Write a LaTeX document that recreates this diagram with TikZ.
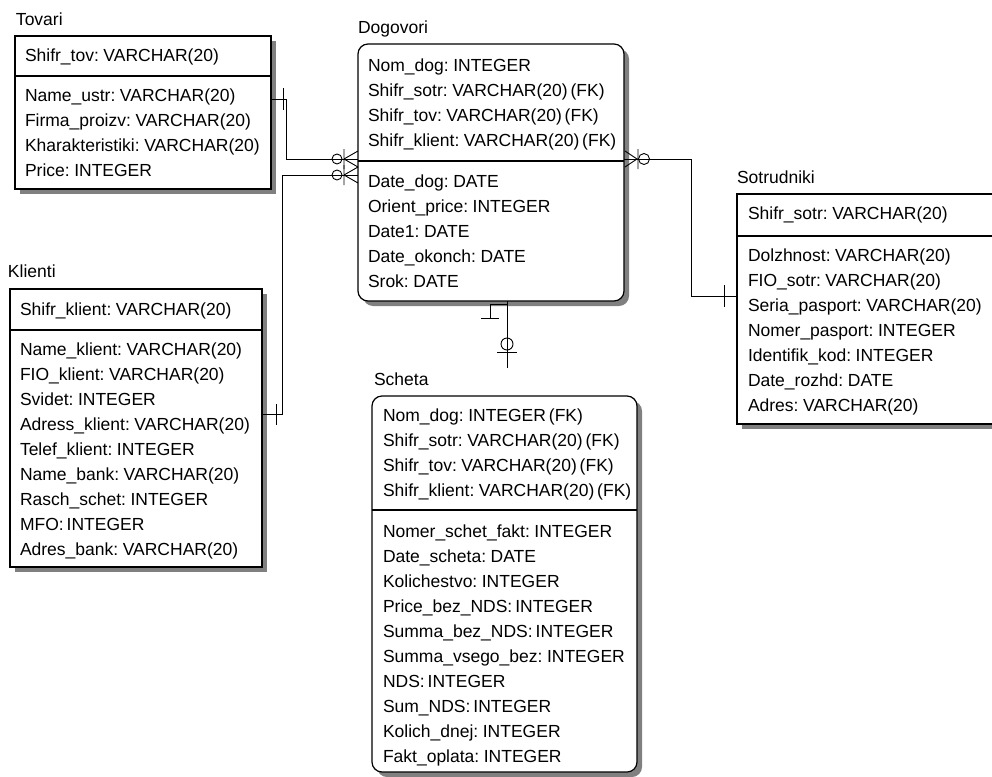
\documentclass[tikz,border=0pt]{standalone}
\usepackage{fontspec}
\setmainfont{Liberation Sans}[WordSpace=0.6]
\usetikzlibrary{shadows}

\begin{document}
\begin{tikzpicture}[x=1pt,y=-1pt,
  every node/.style={inner sep=0pt, outer sep=0pt, anchor=north west, align=left, font=\fontsize{17.5}{25}\selectfont},
  ent/.style={draw, line width=1.2pt, fill=white, drop shadow={shadow xshift=5pt, shadow yshift=-5pt, fill=black!50, opacity=1}},
  entr/.style={ent, rounded corners=10pt},
  rel/.style={line width=0.9pt}]
\useasboundingbox (0,0) rectangle (992,776);

% boxes
\node[ent, minimum width=256pt, minimum height=153pt] (tov) at (15,36) {};
\node[ent, minimum width=252pt, minimum height=278pt] (kli) at (10,289) {};
\node[entr, minimum width=266pt, minimum height=257pt] (dog) at (358,44) {};
\node[ent, minimum width=270pt, minimum height=230pt] (sot) at (737,194) {};
\node[entr, minimum width=265pt, minimum height=376pt] (sch) at (372,396) {};

\draw[line width=1.2pt] (tov.west |- 0,76) -- (tov.east |- 0,76);
\draw[line width=1.2pt] (kli.west |- 0,330) -- (kli.east |- 0,330);
\draw[line width=1.2pt] (dog.west |- 0,161) -- (dog.east |- 0,161);
\draw[line width=1.2pt] (sot.west |- 0,236) -- (sot.east |- 0,236);
\draw[line width=1.2pt] (sch.west |- 0,510) -- (sch.east |- 0,510);

% Tovari
\node (tovT) at (16,13) {Tovari};
\node (tovK) at (25,49) {Shifr\_tov: VARCHAR(20)};
\node (tovA) at (25,89) {Name\_ustr: VARCHAR(20)\\Firma\_proizv: VARCHAR(20)\\Kharakteristiki: VARCHAR(20)\\Price: INTEGER};

% Klienti
\node (kliT) at (8,265) {Klienti};
\node (kliK) at (20,303) {Shifr\_klient: VARCHAR(20)};
\node (kliA) at (20,343) {Name\_klient: VARCHAR(20)\\FIO\_klient: VARCHAR(20)\\Svidet: INTEGER\\Adress\_klient: VARCHAR(20)\\Telef\_klient: INTEGER\\Name\_bank: VARCHAR(20)\\Rasch\_schet: INTEGER\\MFO: INTEGER\\Adres\_bank: VARCHAR(20)};

% Dogovori
\node (dogT) at (358,21) {Dogovori};
\node (dogK) at (368,59) {Nom\_dog: INTEGER\\Shifr\_sotr: VARCHAR(20) (FK)\\Shifr\_tov: VARCHAR(20) (FK)\\Shifr\_klient: VARCHAR(20) (FK)};
\node (dogA) at (368,175) {Date\_dog: DATE\\Orient\_price: INTEGER\\Date1: DATE\\Date\_okonch: DATE\\Srok: DATE};

% Sotrudniki
\node (sotT) at (737,171) {Sotrudniki};
\node (sotK) at (748,207) {Shifr\_sotr: VARCHAR(20)};
\node (sotA) at (748,249) {Dolzhnost: VARCHAR(20)\\FIO\_sotr: VARCHAR(20)\\Seria\_pasport: VARCHAR(20)\\Nomer\_pasport: INTEGER\\Identifik\_kod: INTEGER\\Date\_rozhd: DATE\\Adres: VARCHAR(20)};

% Scheta
\node (schT) at (374,373) {Scheta};
\node (schK) at (383,409) {Nom\_dog: INTEGER (FK)\\Shifr\_sotr: VARCHAR(20) (FK)\\Shifr\_tov: VARCHAR(20) (FK)\\Shifr\_klient: VARCHAR(20) (FK)};
\node (schA) at (383,525) {Nomer\_schet\_fakt: INTEGER\\Date\_scheta: DATE\\Kolichestvo: INTEGER\\Price\_bez\_NDS: INTEGER\\Summa\_bez\_NDS: INTEGER\\Summa\_vsego\_bez: INTEGER\\NDS: INTEGER\\Sum\_NDS: INTEGER\\Kolich\_dnej: INTEGER\\Fakt\_oplata: INTEGER};

% Tovari - Dogovori
\draw[rel] (tov.east |- 0,99) -| (286,159) -- (dog.west |- 0,159);
\draw[rel] (283,88) -- (283,110);
\draw[rel] (344,159) -- (358,151) (344,159) -- (358,167) (344,149) -- (344,169);
\draw[rel] (337,159) circle (5pt);

% Klienti - Dogovori
\draw[rel] (kli.east |- 0,414) -| (282,175) -- (dog.west |- 0,175);
\draw[rel] (276,404) -- (276,425);
\draw[rel] (344,175) -- (358,167) (344,175) -- (358,183) (344,165) -- (344,185);
\draw[rel] (337,175) circle (5pt);

% Dogovori - Sotrudniki
\draw[rel] (dog.east |- 0,159) -| (691,296) -- (sot.west |- 0,296);
\draw[rel] (724,285) -- (724,307);
\draw[rel] (637,159) -- (625,151) (637,159) -- (625,167) (638,149) -- (638,169);
\draw[rel] (644,159) circle (5.5pt);

% Dogovori - Scheta
\coordinate (schEnd) at (507,368);
\draw[rel] (dog.south -| schEnd) -- (schEnd);
\draw[rel] (490,304) -- (507,304);
\draw[rel] (490,304) -- (490,318) (481,318) -- (499,318);
\draw[rel] (507,344) circle (6pt);
\draw[rel] (497,352) -- (517,352);
\end{tikzpicture}
\end{document}
